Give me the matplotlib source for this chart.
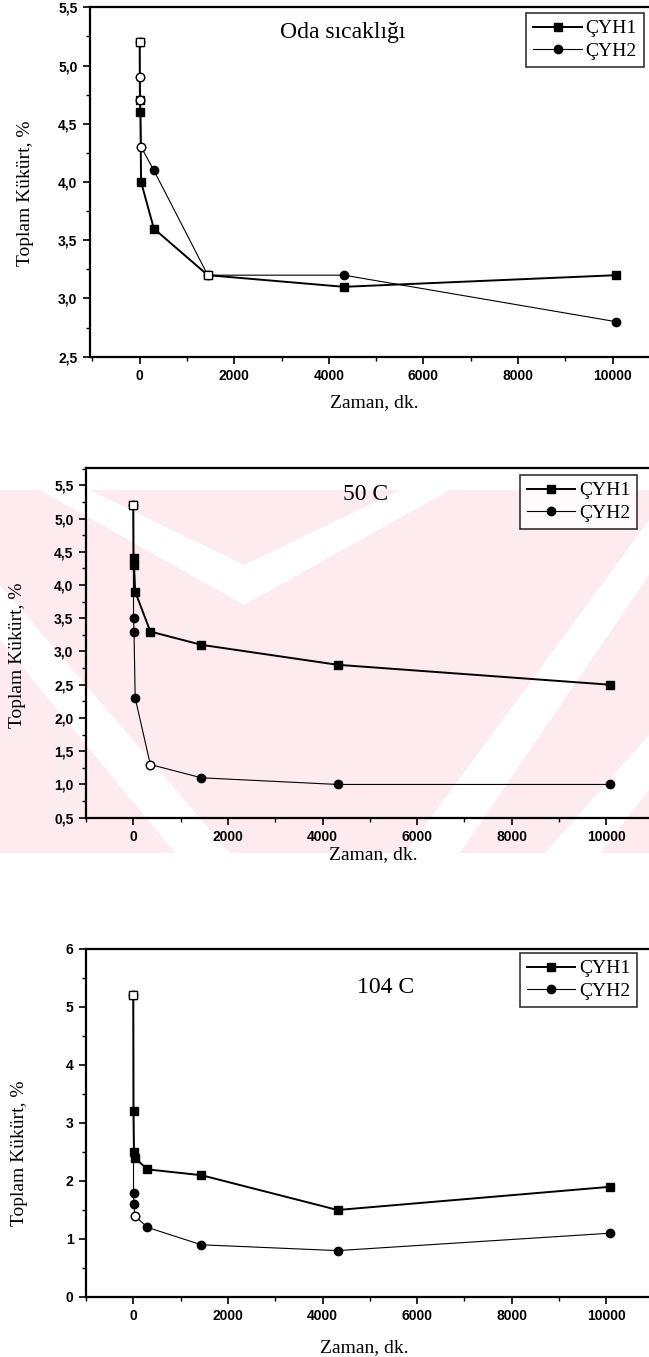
import matplotlib.pyplot as plt
from matplotlib.patches import Rectangle, Polygon
from matplotlib.ticker import MultipleLocator, FuncFormatter

# zaman, dk.
t_oda = [0, 5, 15, 30, 300, 1440, 4320, 10080]
t_50 = [0, 5, 15, 40, 360, 1440, 4320, 10080]
t_104 = [0, 5, 15, 30, 300, 1440, 4320, 10080]

# toplam kukurt, %
oda_cyh1 = [5.2, 4.7, 4.6, 4.0, 3.6, 3.2, 3.1, 3.2]
oda_cyh2 = [5.2, 4.9, 4.7, 4.3, 4.1, 3.2, 3.2, 2.8]
c50_cyh1 = [5.2, 4.4, 4.3, 3.9, 3.3, 3.1, 2.8, 2.5]
c50_cyh2 = [5.2, 3.5, 3.3, 2.3, 1.3, 1.1, 1.0, 1.0]
c104_cyh1 = [5.2, 3.2, 2.5, 2.4, 2.2, 2.1, 1.5, 1.9]
c104_cyh2 = [5.2, 1.8, 1.6, 1.4, 1.2, 0.9, 0.8, 1.1]

titles = ["Oda sıcaklığı", "50 C", "104 C"]
labels = ["ÇYH1", "ÇYH2"]
xticks = [0, 2000, 4000, 6000, 8000, 10000]

serif = "Liberation Serif"
W, H = 649, 1357
fig = plt.figure(figsize=(W / 100, H / 100), dpi=100)


def px_axes(left, top, right, bottom):
    return fig.add_axes([left / W, 1 - bottom / H, (right - left) / W, (bottom - top) / H])


def fpx(pts):
    return [(x / W, 1 - y / H) for x, y in pts]


# faint pink watermark behind the middle panel (scanned thesis page)
wm_top, wm_bot = 490, 853
wm = Rectangle((0, 1 - wm_bot / H), 1, (wm_bot - wm_top) / H, transform=fig.transFigure,
               facecolor="#fdebef", edgecolor="none", zorder=-10)
fig.patches.append(wm)
bands = [
    [(40, 490), (90, 490), (244, 565), (244, 605)],
    [(244, 565), (400, 490), (450, 490), (244, 605)],
    [(0, 585), (0, 640), (175, 853), (230, 853)],
    [(649, 520), (649, 575), (460, 853), (405, 853)],
    [(649, 735), (649, 790), (600, 853), (545, 853)],
]
for b in bands:
    poly = Polygon(fpx(b), closed=True, transform=fig.transFigure,
                   facecolor="white", edgecolor="none", zorder=-9)
    poly.set_clip_path(wm)
    fig.patches.append(poly)

comma = FuncFormatter(lambda v, _: f"{v:.1f}".replace(".", ","))

panels = [
    dict(box=(90, 7.3, 650.5, 356.7), xlim=(-1050, 10800), ylim=(2.5, 5.5), major=0.5, minor=0.25,
         fmt=comma, tpos=(0.451, 0.929), leg=(0.988, 0.984), xl=(0.508, -0.107), yl=(-0.100, 0.468),
         t=t_oda, y1=oda_cyh1, y2=oda_cyh2, open2=[1, 2, 3], open1=[0, 5]),
    dict(box=(86, 468, 653.6, 817.7), xlim=(-1000, 11000), ylim=(0.5, 5.76), major=0.5, minor=0.25,
         fmt=comma, tpos=(0.493, 0.923), leg=(0.971, 0.980), xl=(0.506, -0.081), yl=(-0.106, 0.465),
         t=t_50, y1=c50_cyh1, y2=c50_cyh2, open2=[4], open1=[0]),
    dict(box=(86, 949, 653.6, 1297), xlim=(-1000, 11000), ylim=(0, 6), major=1, minor=0.5,
         fmt=FuncFormatter(lambda v, _: f"{v:.0f}"), tpos=(0.527, 0.888), leg=(0.971, 0.9885),
         xl=(0.491, -0.121), yl=(-0.103, 0.414),
         t=t_104, y1=c104_cyh1, y2=c104_cyh2, open2=[3], open1=[0]),
]

for i, p in enumerate(panels):
    ax = px_axes(*p["box"])
    ax.patch.set_alpha(0)
    t = p["t"]
    l2, = ax.plot(t, p["y2"], color="black", lw=0.8, marker="o", ms=6,
                  mfc="black", mec="black", label=labels[1], zorder=3)
    l1, = ax.plot(t, p["y1"], color="black", lw=1.4, marker="s", ms=6,
                  mfc="black", mec="black", label=labels[0], zorder=4)
    ax.plot(t, p["y2"], ls="none", marker="o", ms=6, mfc="white", mec="black",
            mew=0.9, markevery=p["open2"], zorder=5)
    ax.plot(t, p["y1"], ls="none", marker="s", ms=6, mfc="white", mec="black",
            mew=0.9, markevery=p["open1"], zorder=6)

    ax.set_xlim(*p["xlim"])
    ax.set_ylim(*p["ylim"])
    ax.set_xticks(xticks)
    ax.xaxis.set_minor_locator(MultipleLocator(1000))
    ax.yaxis.set_major_locator(MultipleLocator(p["major"]))
    ax.yaxis.set_minor_locator(MultipleLocator(p["minor"]))
    ax.yaxis.set_major_formatter(p["fmt"])
    ax.tick_params(which="major", direction="out", length=5, width=1.2, labelsize=10, pad=4)
    ax.tick_params(which="minor", direction="out", length=3, width=1.0)
    ax.tick_params(right=False, top=False, which="both")
    for lab in ax.get_xticklabels() + ax.get_yticklabels():
        lab.set_fontweight("bold")
        lab.set_fontfamily("Liberation Sans")
    for s in ["left", "bottom", "top"]:
        ax.spines[s].set_linewidth(1.6)
    ax.spines["right"].set_visible(False)

    ax.set_xlabel("Zaman, dk.", family=serif, fontsize=14)
    ax.xaxis.set_label_coords(*p["xl"])
    ax.set_ylabel("Toplam Kükürt, %", family=serif, fontsize=14)
    ax.yaxis.set_label_coords(*p["yl"])

    ax.text(*p["tpos"], titles[i], transform=ax.transAxes, family=serif, fontsize=17,
            ha="center", va="center")

    leg = ax.legend(handles=[l1, l2], loc="upper right", bbox_to_anchor=p["leg"],
                    prop={"family": serif, "size": 14}, frameon=True, fancybox=False,
                    edgecolor="black", handlelength=2.5, handletextpad=0.2,
                    labelspacing=0.25, borderpad=0.35, borderaxespad=0)
    leg.get_frame().set_linewidth(1.2)
    leg.get_frame().set_facecolor("white")

fig.savefig("out.png", dpi=100, facecolor="white")
